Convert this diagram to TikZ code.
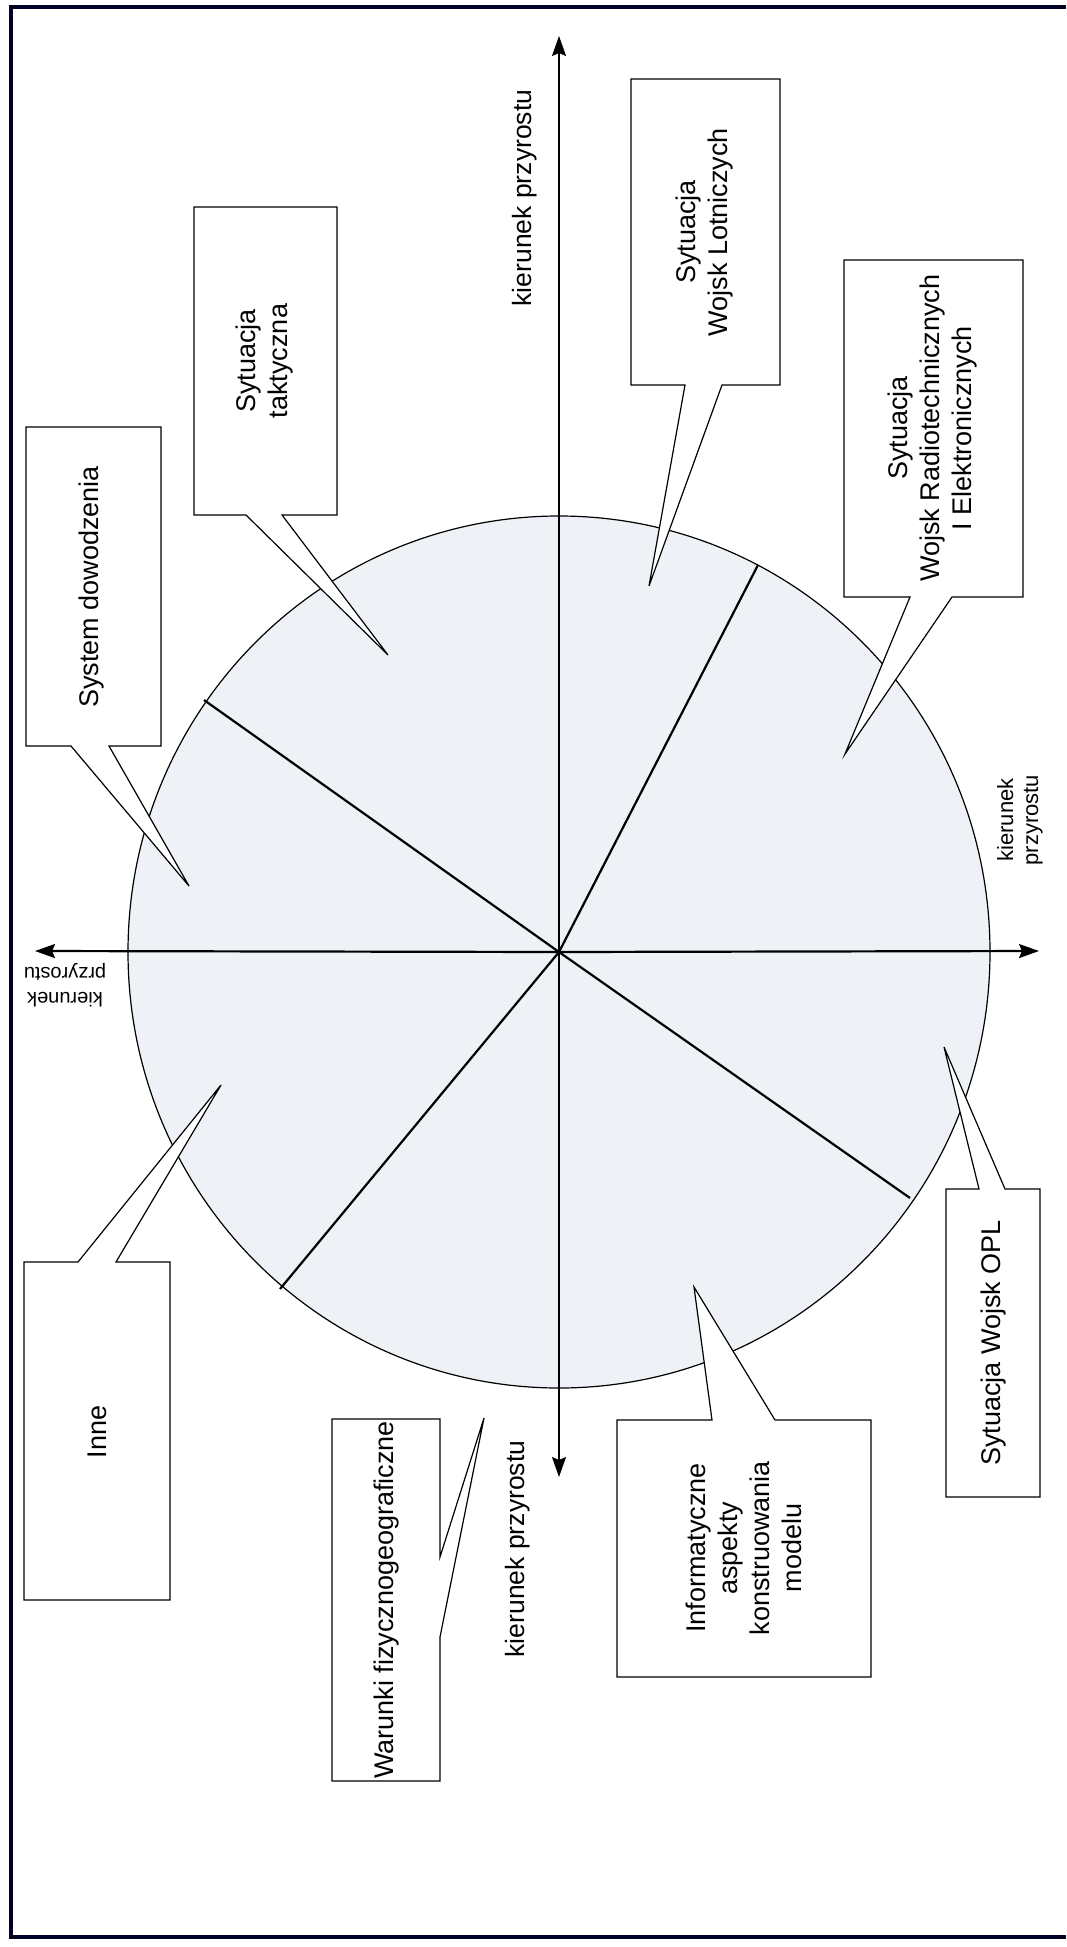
\documentclass[tikz,border=0pt]{standalone}
\usepackage{fontspec}
\setmainfont{Liberation Sans}
\usetikzlibrary{arrows.meta}

\tikzset{
	ramka/.style={line width=2pt, draw=black!85!blue},
	os/.style={line width=0.8pt, -{Stealth[length=10pt, width=7pt, inset=1.5pt]}},
	sektor/.style={line width=1.1pt},
	dymek/.style={draw, fill=white, line width=0.6pt, line join=miter},
	opis/.style={font=\fontsize{13.5}{16}\selectfont, align=center, rotate=90, inner sep=0pt},
	kierunek/.style={font=\fontsize{13.25}{16}\selectfont, align=center, inner sep=0pt}
}

\begin{document}
\begin{tikzpicture}[x=0.5pt, y=-0.5pt]
	\useasboundingbox (0, 0) rectangle (1066, 1947);
	\draw[ramka] (1066, 7) -- (11, 7) -- (11, 1937) -- (1066, 1937);

	\coordinate (s) at (559, 952);
	\filldraw[fill={rgb,255:red,238;green,241;blue,246}, line width=0.6pt] (s) ellipse [x radius=431, y radius=436];

	\coordinate (gora) at (559, 36);
	\coordinate (dol) at (559, 1477);
	\coordinate (lewo) at (35, 951);
	\coordinate (prawo) at (1039, 951);
	\draw[os] (s) -- (gora);
	\draw[os] (s) -- (dol);
	\draw[os, line width=1.1pt] (s) -- (lewo);
	\draw[os, line width=1.1pt] (s) -- (prawo);

	\coordinate (r1) at (758, 565);
	\coordinate (r2) at (204, 700);
	\coordinate (r3) at (910, 1198);
	\coordinate (r4) at (280, 1289);
	\draw[sektor] (s) -- (r1);
	\draw[sektor] (s) -- (r2);
	\draw[sektor] (s) -- (r3);
	\draw[sektor] (s) -- (r4);

	\filldraw[dymek] (194, 207) -- (337, 207) -- (337, 515) -- (282, 515) -- (388, 655) -- (246, 515) -- (194, 515) -- cycle;
	\node[opis] (taktyczna) at (265, 361) {Sytuacja\\taktyczna};

	\filldraw[dymek] (26, 427) -- (161, 427) -- (161, 746) -- (109, 746) -- (189, 886) -- (71, 746) -- (26, 746) -- cycle;
	\node[opis] (dowodzenie) at (92, 587) {System dowodzenia};

	\filldraw[dymek] (631, 79) -- (780, 79) -- (780, 385) -- (722, 385) -- (649, 586) -- (685, 385) -- (631, 385) -- cycle;
	\node[opis] (lotnicze) at (705, 232) {Sytuacja\\Wojsk Lotniczych};

	\filldraw[dymek] (844, 260) -- (1023, 260) -- (1023, 597) -- (952, 597) -- (845, 754) -- (910, 597) -- (844, 597) -- cycle;
	\node[opis] (radio) at (933, 428) {Sytuacja\\Wojsk Radiotechnicznych\\I Elektronicznych};

	\filldraw[dymek] (946, 1189) -- (979, 1189) -- (944, 1047) -- (1005, 1189) -- (1040, 1189) -- (1040, 1497) -- (946, 1497) -- cycle;
	\node[opis] (opl) at (994, 1343) {Sytuacja Wojsk OPL};

	\filldraw[dymek] (617, 1420) -- (712, 1420) -- (694, 1287) -- (775, 1420) -- (871, 1420) -- (871, 1677) -- (617, 1677) -- cycle;
	\node[opis] (informatyka) at (744, 1548) {Informatyczne\\aspekty\\konstruowania\\modelu};

	\filldraw[dymek] (332, 1419) -- (440, 1419) -- (440, 1557) -- (484, 1418) -- (440, 1637) -- (440, 1781) -- (332, 1781) -- cycle;
	\node[opis] (warunki) at (387, 1600) {Warunki fizycznogeograficzne};

	\filldraw[dymek] (24, 1262) -- (78, 1262) -- (221, 1085) -- (116, 1262) -- (170, 1262) -- (170, 1600) -- (24, 1600) -- cycle;
	\node[opis] (inne) at (97, 1432) {Inne};

	\node[kierunek, rotate=90] (kp-gora) at (525, 198) {kierunek przyrostu};
	\node[kierunek, rotate=90] (kp-dol) at (518, 1549) {kierunek przyrostu};
	\node[kierunek, rotate=90, font=\fontsize{11}{12.5}\selectfont] (kp-prawo) at (1020, 820) {kierunek\\przyrostu};
	\node[kierunek, rotate=180, font=\fontsize{10}{12.5}\selectfont] (kp-lewo) at (65, 985) {kierunek\\przyrostu};
\end{tikzpicture}
\end{document}
